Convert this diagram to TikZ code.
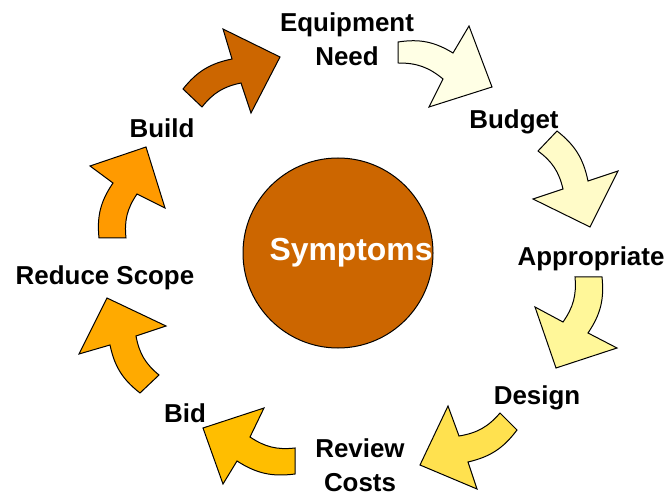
\documentclass[tikz,border=0pt]{standalone}
\usepackage{fontspec}
\setmainfont{Liberation Sans}
\definecolor{rust}{HTML}{CC6600}
\definecolor{cream}{HTML}{FFFFE5}
\definecolor{paleyellow}{HTML}{FFFBC8}
\definecolor{lightyellow}{HTML}{FFF799}
\definecolor{sunyellow}{HTML}{FFE14F}
\definecolor{amber}{HTML}{FFBE00}
\definecolor{tangerine}{HTML}{FFAA00}
\definecolor{orange}{HTML}{FF9A00}

\begin{document}
\begin{tikzpicture}[x=0.5bp,y=-0.5bp,
    phase/.style={font=\bfseries\fontsize{13}{17}\selectfont,align=center},
    bigarrow/.style={draw=black,line width=0.5bp,line join=miter}]
    \useasboundingbox (0,0) rectangle (670,495);
    \node[circle,draw=black,line width=0.5bp,fill=rust,minimum size=95bp,inner sep=0pt] (symptoms) at (338,253) {};
    \node[text=white,font=\bfseries\fontsize{16}{19}\selectfont] (symptext) at (351,253) {Symptoms};
    \node[phase] (equip) at (347,39) {Equipment\\Need};
    \node[phase] (budget) at (514,122) {Budget};
    \node[phase] (approp) at (591,259) {Appropriate};
    \node[phase] (design) at (537,398) {Design};
    \node[phase] (review) at (360,465) {Review\\Costs};
    \node[phase] (bid) at (185,413) {Bid};
    \node[phase] (reduce) at (105,278) {Reduce Scope};
    \node[phase] (build) at (162,128) {Build};
    % build -> equipment need
    \filldraw[bigarrow,fill=rust] (183,89) to[bend left=20] (232,59) -- (223,29) -- (280,57)
        -- (251,113) -- (241,83) to[bend right=20] (202,107) -- cycle;
    % equipment need -> budget
    \filldraw[bigarrow,fill=cream] (398,42) to[bend left=20] (453,53) -- (469,26) -- (492,87)
        -- (429,107) -- (443,79) to[bend right=20] (398,63) -- cycle;
    % budget -> appropriate
    \filldraw[bigarrow,fill=paleyellow] (557,131) to[bend left=20] (588,181) -- (618,171) -- (590,227)
        -- (533,199) -- (563,189) to[bend right=20] (538,151) -- cycle;
    % appropriate -> design
    \filldraw[bigarrow,fill=lightyellow] (602,277) to[bend left=20] (588,333) -- (617,348) -- (556,368)
        -- (535,307) -- (563,322) to[bend right=20] (575,277) -- cycle;
    % design -> review costs
    \filldraw[bigarrow,fill=sunyellow] (517,430) to[bend left=20] (468,462) -- (477,489) -- (420,465)
        -- (448,406) -- (459,436) to[bend right=20] (500,413) -- cycle;
    % review costs -> bid
    \filldraw[bigarrow,fill=amber] (295,474) to[bend left=20] (237,461) -- (223,484) -- (203,428)
        -- (264,408) -- (250,437) to[bend right=20] (295,448) -- cycle;
    % bid -> reduce scope
    \filldraw[bigarrow,fill=tangerine] (140,393) to[bend left=20] (110,345) -- (79,354) -- (107,298)
        -- (166,326) -- (136,336) to[bend right=20] (159,375) -- cycle;
    % reduce scope -> build
    \filldraw[bigarrow,fill=orange] (99,238) to[bend left=20] (113,183) -- (90,166) -- (146,147)
        -- (165,208) -- (137,194) to[bend right=20] (126,238) -- cycle;
\end{tikzpicture}
\end{document}
